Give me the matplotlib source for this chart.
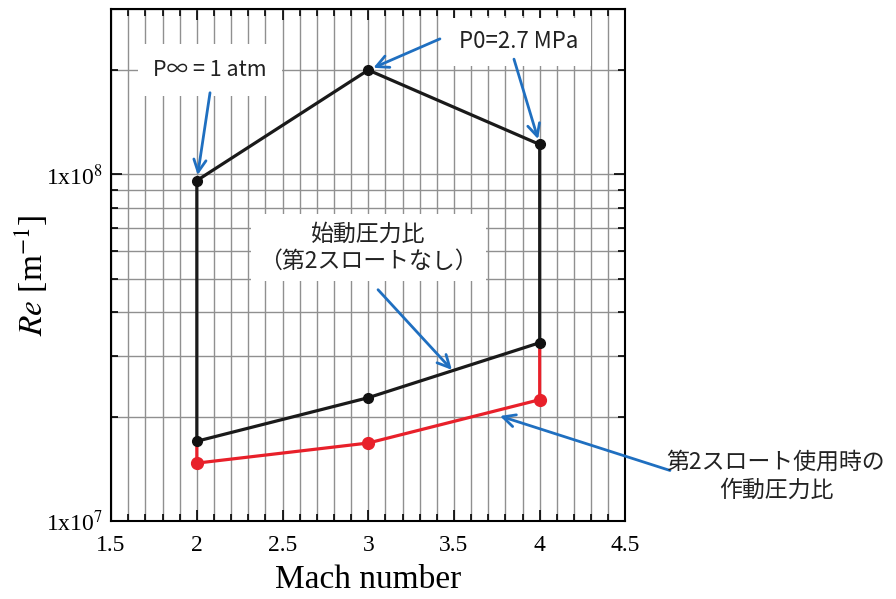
import matplotlib
matplotlib.use('Agg')
import matplotlib.pyplot as plt
from matplotlib.ticker import MultipleLocator, LogLocator, NullFormatter, FixedLocator, FixedFormatter

# Datos
mach = [2, 3, 4]
re_top = [9.6e7, 2.0e8, 1.22e8]     # P0 = 2.7 MPa / P∞ = 1 atm
re_start = [1.70e7, 2.27e7, 3.27e7]  # 始動圧力比（第2スロートなし）
re_work = [1.47e7, 1.68e7, 2.24e7]   # 第2スロート使用時の作動圧力比

plt.rcParams['font.family'] = ['Liberation Serif', 'DejaVu Serif']
plt.rcParams['mathtext.fontset'] = 'stix'

jp_font = ['Noto Sans CJK JP', 'DejaVu Sans']
azul = '#1f6fc0'
gris_txt = '#222222'

fig = plt.figure(figsize=(8.96, 5.99), dpi=100, facecolor='white')
ax = fig.add_axes([0.124, 0.130, 0.574, 0.855])

ax.set_xlim(1.5, 4.5)
ax.set_yscale('log')
ax.set_ylim(1e7, 3e8)

# Contorno negro
x_black = [mach[0]] + mach + [mach[2]] + mach[::-1]
y_black = [re_start[0]] + re_top + [re_start[2]] + re_start[::-1]
ax.plot(x_black, y_black, color='#1a1a1a', lw=2.3, zorder=4)

# Línea roja
x_red = [mach[0]] + mach + [mach[2]]
y_red = [re_start[0]] + re_work + [re_start[2]]
ax.plot(x_red, y_red, color='#e8202a', lw=2.3, zorder=3)
ax.plot(mach, re_work, 'o', color='#e8202a', ms=8.5, zorder=5)
ax.plot(mach + mach, re_top + re_start, 'o', color='#111111', ms=7, zorder=6)

# Ejes y rejilla
ax.xaxis.set_major_locator(MultipleLocator(0.5))
ax.xaxis.set_minor_locator(MultipleLocator(0.1))
ax.yaxis.set_major_locator(FixedLocator([1e7, 1e8]))
ax.yaxis.set_major_formatter(FixedFormatter(['1x10$^{7}$', '1x10$^{8}$']))
ax.yaxis.set_minor_locator(LogLocator(base=10, subs=range(2, 10), numticks=20))
ax.yaxis.set_minor_formatter(NullFormatter())
ax.set_xticks([1.5, 2, 2.5, 3, 3.5, 4, 4.5])
ax.set_xticklabels(['1.5', '2', '2.5', '3', '3.5', '4', '4.5'])

ax.grid(which='both', color='#909090', lw=1.0, zorder=0)
ax.set_axisbelow(True)
ax.tick_params(which='both', direction='in', top=True, right=True, colors='black',
               labelsize=17, width=1.2)
ax.tick_params(which='major', length=8)
ax.tick_params(which='minor', length=5)
ax.tick_params(axis='x', pad=10)
ax.tick_params(axis='y', pad=6)
for s in ax.spines.values():
    s.set_linewidth(1.5)
    s.set_color('black')

ax.set_xlabel('Mach number', fontsize=24, labelpad=6)
ax.set_ylabel(r'$\mathit{Re}$ [m$^{-1}$]', fontsize=24)
ax.yaxis.set_label_coords(-0.118, 0.48)

# Etiquetas con fondo blanco
ax.text(2.077, 2.0e8, 'P∞ = 1 atm', fontsize=15.5, family=jp_font, color=gris_txt,
        ha='center', va='center', bbox=dict(facecolor='white', edgecolor='none', pad=11), zorder=2)
ax.text(3.88, 2.41e8, 'P0=2.7 MPa', fontsize=16, family=jp_font, color=gris_txt,
        ha='center', va='center', bbox=dict(facecolor='white', edgecolor='none', pad=9), zorder=2)
ax.text(3.0, 6.15e7, '始動圧力比\n（第2スロートなし）', fontsize=16.5, family=jp_font,
        color=gris_txt, ha='center', va='center', multialignment='center',
        linespacing=1.25, bbox=dict(facecolor='white', edgecolor='none', pad=6), zorder=2)
fig.text(0.866, 0.205, '第2スロート使用時の\n作動圧力比', fontsize=16.5, family=jp_font,
         color=gris_txt, ha='center', va='center', multialignment='center', linespacing=1.25)

# Flechas
flecha = dict(arrowstyle='->', color=azul, lw=2, mutation_scale=22, shrinkA=0, shrinkB=4)
ax.annotate('', xy=(mach[0], re_top[0]), xytext=(2.077, 1.72e8), arrowprops=flecha, zorder=7)
ax.annotate('', xy=(mach[1], re_top[1]), xytext=(3.418, 2.46e8), arrowprops=flecha, zorder=7)
ax.annotate('', xy=(mach[2], re_top[2]), xytext=(3.85, 2.15e8), arrowprops=flecha, zorder=7)
ax.annotate('', xy=(3.488, 2.73e7), xytext=(3.057, 4.65e7),
            arrowprops=dict(flecha, shrinkB=0), zorder=7)
ax.annotate('', xy=(3.768, 2.01e7), xytext=(4.76, 1.40e7),
            arrowprops=dict(flecha, shrinkB=0), zorder=7, annotation_clip=False)

plt.savefig('out.png', dpi=100, facecolor='white')
plt.close()
